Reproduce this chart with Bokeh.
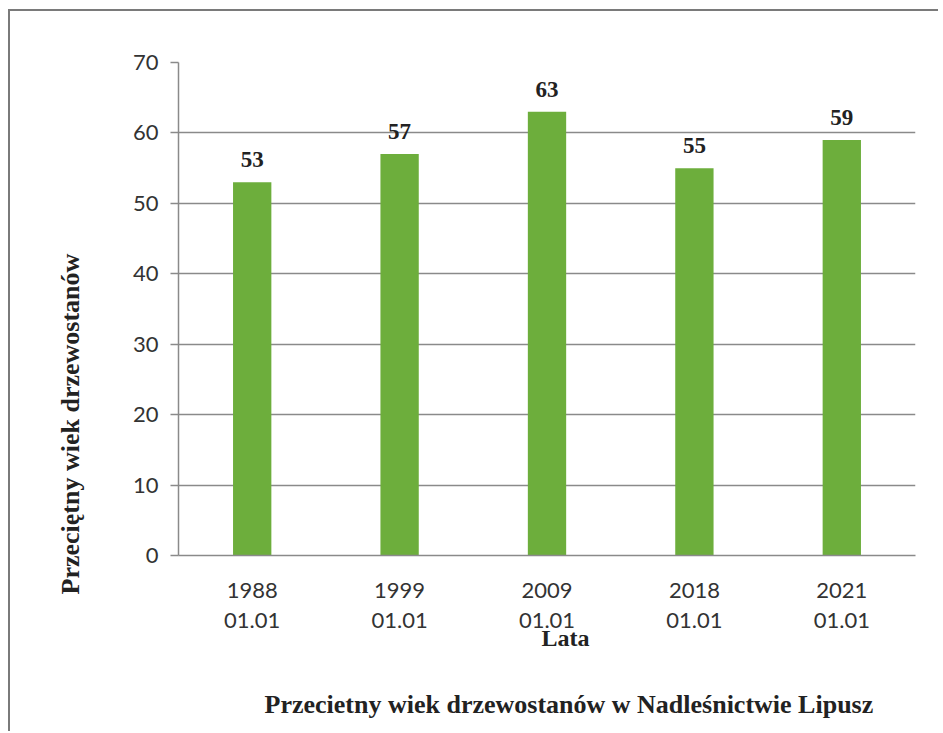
from bokeh.plotting import figure
from bokeh.models import ColumnDataSource, LabelSet, FactorRange, Title
from bokeh.embed import file_html
from bokeh.resources import INLINE

years = ["1988", "1999", "2009", "2018", "2021"]
dates = ["01.01", "01.01", "01.01", "01.01", "01.01"]
ages = [53, 57, 63, 55, 59]
y_ticks = [0, 10, 20, 30, 40, 50, 60, 70]

factors = [f"{y}\n{d}" for y, d in zip(years, dates)]
src = ColumnDataSource(dict(x=factors, age=ages, lab=[str(a) for a in ages]))

W, H = 930, 722
p = figure(x_range=FactorRange(factors=factors), y_range=(0, 70),
           width=W, height=H, output_backend="svg", toolbar_location=None,
           min_border_left=168, min_border_right=W - 168 - 737,
           min_border_top=51, min_border_bottom=H - 51 - 494)
p.styles = {"border-left": "2px solid #7a7a7a", "border-top": "2px solid #7a7a7a",
            "margin-left": "8px", "margin-top": "9px"}
p.x_range.range_padding = 0.0
p.outline_line_color = None
p.background_fill_color = "white"
p.border_fill_color = "white"

p.vbar(x="x", top="age", width=0.26, source=src, fill_color="#6DAE3C", line_color=None)

p.add_layout(LabelSet(x="x", y="age", text="lab", source=src, text_align="center",
                      text_baseline="bottom", y_offset=15,
                      text_font="Liberation Serif", text_font_style="bold",
                      text_font_size="23px", text_color="#222222"))

p.xgrid.grid_line_color = None
p.ygrid.ticker = y_ticks
p.ygrid.grid_line_color = "#8a8a8a"
p.ygrid.grid_line_width = 1.5

ya = p.yaxis[0]
ya.ticker = y_ticks
ya.axis_line_color = "#8a8a8a"
ya.axis_line_width = 1.5
ya.major_tick_line_color = "#8a8a8a"
ya.major_tick_line_width = 1.5
ya.major_tick_out = 8
ya.major_tick_in = 0
ya.minor_tick_line_color = None
ya.major_label_standoff = 12
ya.major_label_text_font = "Lato"
ya.major_label_text_font_size = "22px"
ya.major_label_text_color = "#333333"

xa = p.xaxis[0]
xa.axis_line_color = "#8a8a8a"
xa.axis_line_width = 1.5
xa.major_tick_line_color = None
xa.minor_tick_line_color = None
xa.major_label_standoff = 14
xa.major_label_text_font = "Lato"
xa.major_label_text_font_size = "22px"
xa.major_label_text_color = "#333333"
xa.major_label_text_line_height = 1.14

def font(size):
    return dict(text_font="Liberation Serif", text_font_style="bold",
                text_font_size=size, text_color="#222222")

p.add_layout(Title(text="Przeciętny wiek drzewostanów", align="left", offset=-39,
                   vertical_align="middle", standoff=88, **font("26px")), "left")
p.add_layout(Title(text="Lata", align="left", offset=363, standoff=-28, **font("24px")), "below")
p.add_layout(Title(text="\nPrzecietny wiek drzewostanów w Nadleśnictwie Lipusz",
                   align="left", offset=86, standoff=28, text_line_height=1.3, **font("26px")), "below")

open("out.html", "w").write(file_html(p, INLINE))
